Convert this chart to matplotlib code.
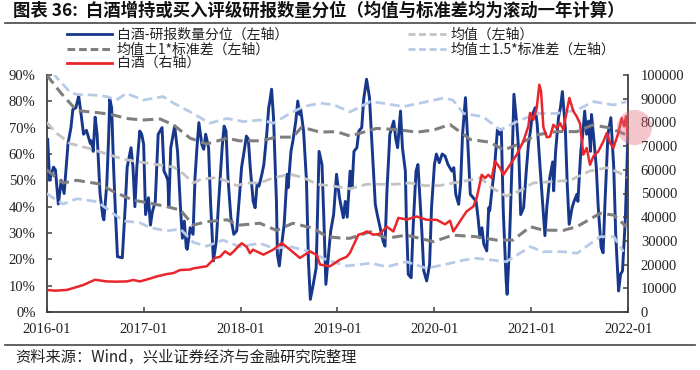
import matplotlib
matplotlib.use('Agg')
import matplotlib.pyplot as plt
from matplotlib.lines import Line2D
from matplotlib import font_manager

plt.rcParams['font.family'] = ['Noto Sans CJK SC', 'DejaVu Sans']

# ---- data (time in decimal years) ----
blue_t = [2016.01, 2016.03, 2016.07, 2016.09, 2016.12, 2016.15, 2016.18, 2016.22, 2016.25, 2016.27,
          2016.30, 2016.33, 2016.35, 2016.38, 2016.41, 2016.45, 2016.46, 2016.48, 2016.50, 2016.52,
          2016.55, 2016.58, 2016.59, 2016.62, 2016.64, 2016.65, 2016.67, 2016.69, 2016.71, 2016.73,
          2016.78, 2016.81, 2016.83, 2016.85, 2016.87, 2016.89, 2016.91, 2016.93, 2016.96, 2016.98,
          2017.00, 2017.02, 2017.05, 2017.07, 2017.09, 2017.12, 2017.15, 2017.19, 2017.21, 2017.23,
          2017.25, 2017.26, 2017.28, 2017.31, 2017.32, 2017.35, 2017.38, 2017.40, 2017.42, 2017.44,
          2017.45, 2017.48, 2017.51, 2017.53, 2017.55, 2017.57, 2017.60, 2017.62, 2017.64, 2017.67,
          2017.69, 2017.72, 2017.75, 2017.77, 2017.81, 2017.83, 2017.85, 2017.87, 2017.90, 2017.93,
          2017.96, 2017.99,
          2018.01, 2018.04, 2018.06, 2018.08, 2018.10, 2018.13, 2018.15, 2018.17, 2018.19, 2018.22,
          2018.24, 2018.27, 2018.29, 2018.30, 2018.32, 2018.34, 2018.37, 2018.38, 2018.40, 2018.42,
          2018.45, 2018.48, 2018.49, 2018.52, 2018.54, 2018.57, 2018.59, 2018.61, 2018.62, 2018.65,
          2018.68, 2018.70, 2018.72, 2018.75, 2018.78, 2018.81, 2018.84, 2018.86, 2018.88, 2018.91,
          2018.93, 2018.96, 2018.99,
          2019.02, 2019.04, 2019.06, 2019.08, 2019.10, 2019.13, 2019.15, 2019.17, 2019.20, 2019.22,
          2019.25, 2019.27, 2019.30, 2019.33, 2019.35, 2019.39, 2019.41, 2019.44, 2019.47, 2019.49,
          2019.51, 2019.54, 2019.58, 2019.60, 2019.62, 2019.65, 2019.67, 2019.70, 2019.71, 2019.73,
          2019.76, 2019.78, 2019.81, 2019.83, 2019.85, 2019.87, 2019.89, 2019.92, 2019.95, 2019.97,
          2020.00, 2020.02, 2020.05, 2020.08, 2020.11, 2020.14, 2020.18, 2020.20, 2020.22, 2020.25,
          2020.27, 2020.29, 2020.32, 2020.34, 2020.37, 2020.40, 2020.43, 2020.45, 2020.47, 2020.49,
          2020.51, 2020.54, 2020.56, 2020.57, 2020.60, 2020.62, 2020.65, 2020.67, 2020.69, 2020.71,
          2020.74, 2020.75, 2020.77, 2020.80, 2020.82, 2020.85, 2020.87, 2020.89, 2020.92, 2020.95,
          2020.97, 2020.99,
          2021.01, 2021.04, 2021.06, 2021.09, 2021.12, 2021.14, 2021.16, 2021.19, 2021.22, 2021.23,
          2021.25, 2021.28, 2021.30, 2021.32, 2021.35, 2021.37, 2021.39, 2021.42, 2021.44, 2021.47,
          2021.48, 2021.51, 2021.53, 2021.55, 2021.57, 2021.59, 2021.61, 2021.62, 2021.64, 2021.67,
          2021.69, 2021.72, 2021.74, 2021.76, 2021.79, 2021.82, 2021.85, 2021.87, 2021.90, 2021.92,
          2021.94, 2021.97, 2021.99, 2022.00]
blue_v = [65.5, 50, 55, 54, 41, 50, 45, 64, 70, 77,
          77.5, 82, 76.5, 67.5, 69, 64, 65, 61, 74, 67.5,
          45, 36, 35, 48.6, 67.5, 81, 77.5, 55, 37, 21,
          20.6, 40, 55, 58.6, 62.4, 55, 40, 55, 68.7, 67.5,
          63.7, 37, 43.4, 33, 38, 42, 67.5, 70, 53.5, 52,
          50, 40, 62.4, 68.7, 70.6, 61, 39.6, 28, 34.5, 24.4,
          23.8, 32, 29.5, 51, 62.4, 71.9, 63.7, 61.8, 67.5, 62.4,
          42, 19.4, 27, 39.6, 62.4, 70.6, 68.7, 51, 35.8, 29.5,
          30.8, 44.7,
          54.8, 61.8, 66.8, 65.6, 54.8, 42, 39.6, 48.5, 47.8, 52.3,
          56, 67.5, 77.6, 79.5, 84.6, 73.8, 42, 21.9, 17.5, 24.4,
          33.3, 52.3, 47.2, 61, 65, 72.5, 80.1, 75, 77, 68.7,
          49.7, 19.4, 4.8, 10.5, 16.8, 61, 56, 34.5, 10.5, 23,
          30.8, 37, 52.3,
          43.4, 39.6, 35.8, 42, 36, 53.5, 47.2, 61, 62.4, 68.7,
          70, 80.8, 88.4, 81.4, 67.5, 40.9, 37, 32, 27, 25,
          46, 67.5, 72.5, 66, 62.4, 76.3, 62.4, 53.5, 35.8, 14.3,
          13, 32, 53.5, 56, 43.4, 30.8, 15.6, 11.8, 18, 39.6,
          56, 60, 56.7, 60, 59.2, 56, 53.5, 54.8, 44.7, 40.9,
          48.5, 67.5, 81.4, 67.5, 44.7, 43.4, 42, 35.8, 28.2, 32,
          25.7, 23.2, 39.6, 38.4, 48.5, 54.8, 69.4, 67.5, 69.4, 38.4,
          11.8, 6.7, 21.9, 56, 82.7, 71.3, 61, 37, 39.6, 54.8,
          63.7, 68.7,
          75, 77.6, 71.3, 54.8, 39.6, 29, 40, 51, 57, 46,
          61, 73.8, 77.6, 83.7, 70, 48.5, 33.3, 39.6, 42, 44.7,
          42, 61, 67.5, 76.3, 67.5, 72.5, 61, 75, 67.5, 54.8,
          39.6, 24.4, 22.5, 42, 67.5, 73.8, 54.8, 29.5, 8, 14.3,
          15.6, 35.8, 61, 72.5]

mean_t = [2016.00, 2016.10, 2016.24, 2016.45, 2016.62, 2016.79, 2016.96, 2017.13, 2017.31, 2017.41,
          2017.51, 2017.60, 2017.75, 2017.86, 2017.96, 2018.06, 2018.20, 2018.34, 2018.51, 2018.65,
          2018.79, 2018.96, 2019.13, 2019.30, 2019.45, 2019.60, 2019.75, 2019.90, 2020.05, 2020.20,
          2020.35, 2020.47, 2020.60, 2020.74, 2020.88, 2021.02, 2021.20, 2021.40, 2021.60, 2021.78,
          2021.90, 2022.00]
mean_v = [72, 68, 64, 62, 60, 58, 57, 56, 55, 52.5,
          49, 50.5, 51, 49.7, 48, 49, 49, 51, 52.3, 51,
          48.5, 47.8, 46.8, 48.5, 48.5, 48.5, 49, 48, 48, 49,
          50, 51, 47, 44, 46, 49, 49.5, 50, 53.5, 54.8,
          53, 51]

up1_t = [2016.00, 2016.15, 2016.31, 2016.55, 2016.69, 2016.82, 2016.99, 2017.17, 2017.31, 2017.48,
         2017.65, 2017.86, 2017.99, 2018.20, 2018.37, 2018.54, 2018.63, 2018.82, 2018.99, 2019.13,
         2019.40, 2019.61, 2019.82, 2019.99, 2020.16, 2020.26, 2020.37, 2020.57, 2020.72, 2020.88,
         2021.06, 2021.26, 2021.47, 2021.63, 2021.80, 2021.98]
up1_v = [90, 83, 76.5, 75.6, 74.8, 73.5, 72.9, 73.3, 71, 66,
         63.8, 66, 65, 65, 66.4, 66.4, 70.2, 68.3, 68.5, 66.8,
         69.7, 69.3, 68.3, 69.1, 71.2, 68.5, 65.5, 64.5, 61.5, 64,
         67.3, 68.5, 68.5, 71, 70, 67.3]

lo1_t = [2016.00, 2016.10, 2016.17, 2016.31, 2016.55, 2016.69, 2016.89, 2017.07, 2017.24, 2017.38,
         2017.51, 2017.65, 2017.86, 2017.99, 2018.20, 2018.37, 2018.54, 2018.75, 2018.89, 2019.06,
         2019.13, 2019.34, 2019.51, 2019.71, 2019.99, 2020.19, 2020.43, 2020.64, 2020.81, 2020.99,
         2021.12, 2021.33, 2021.47, 2021.71, 2021.85, 2021.98]
lo1_v = [54, 51, 49, 50, 48.6, 45.7, 42.5, 41.3, 40, 38.7,
         33, 34.3, 35, 33, 33.7, 31, 33.7, 31.8, 28.6, 28,
         28, 30.5, 28, 29.2, 26.7, 29.2, 28.6, 27.3, 27.3, 32.4,
         31.1, 31, 32.4, 37.5, 36.8, 32.4]

up15_t = [2016.00, 2016.08, 2016.24, 2016.31, 2016.48, 2016.62, 2016.72, 2016.82, 2017.00, 2017.20,
          2017.31, 2017.51, 2017.68, 2017.86, 2018.03, 2018.20, 2018.34, 2018.51, 2018.65, 2018.82,
          2018.96, 2019.13, 2019.34, 2019.47, 2019.68, 2019.85, 2020.09, 2020.19, 2020.30, 2020.50,
          2020.68, 2020.85, 2021.06, 2021.26, 2021.47, 2021.64, 2021.85, 2021.98]
up15_v = [96, 90, 83.5, 82.6, 82.4, 81.8, 80.5, 83, 80.5, 81.8,
          79.3, 75.4, 71.7, 73.5, 72.3, 72.9, 71.7, 75.4, 78, 79.3,
          78.7, 76, 79.9, 79.3, 78, 79.3, 81.2, 80.5, 75.4, 74.2,
          69.1, 72.3, 75.4, 75.4, 76.7, 79.9, 78.6, 79.9]

lo15_t = [2016.00, 2016.10, 2016.17, 2016.31, 2016.52, 2016.65, 2016.79, 2016.96, 2017.07, 2017.24,
          2017.38, 2017.51, 2017.65, 2017.82, 2017.99, 2018.20, 2018.34, 2018.51, 2018.72, 2018.89,
          2019.10, 2019.34, 2019.51, 2019.71, 2019.92, 2020.09, 2020.30, 2020.43, 2020.60, 2020.74,
          2020.99, 2021.12, 2021.33, 2021.47, 2021.71, 2021.85, 2021.95]
lo15_v = [45, 42.5, 41, 43, 41.9, 38.4, 34.6, 33.9, 32, 30.8,
          31.5, 26.5, 25, 27.3, 24.8, 26.1, 24.2, 24.8, 22.9, 19.7,
          17.5, 18.5, 17.2, 19.1, 16.6, 17.9, 19.7, 20.4, 19.7, 19.1,
          24.8, 22.9, 22.9, 22.3, 28.6, 28.6, 22.9]

red_t = [2016.000, 2016.086, 2016.206, 2016.274, 2016.378, 2016.498, 2016.619, 2016.722, 2016.825, 2016.893,
         2016.963, 2017.066, 2017.135, 2017.238, 2017.306, 2017.375, 2017.478, 2017.512, 2017.651, 2017.736,
         2017.788, 2017.840, 2017.891, 2017.925, 2017.994, 2018.012, 2018.063, 2018.097, 2018.128, 2018.235,
         2018.338, 2018.425, 2018.510, 2018.613, 2018.716, 2018.786, 2018.820, 2018.923, 2019.026, 2019.095,
         2019.129, 2019.215, 2019.266, 2019.301, 2019.370, 2019.439, 2019.508, 2019.576, 2019.628, 2019.714,
         2019.817, 2019.921, 2020.024, 2020.109, 2020.161, 2020.195, 2020.264, 2020.333, 2020.401, 2020.436,
         2020.488, 2020.522, 2020.556, 2020.591, 2020.625, 2020.677, 2020.711, 2020.780, 2020.849, 2020.917,
         2020.969, 2020.986, 2021.020, 2021.055, 2021.082, 2021.100, 2021.124, 2021.159, 2021.193, 2021.227,
         2021.262, 2021.296, 2021.330, 2021.365, 2021.392, 2021.433, 2021.468, 2021.502, 2021.536, 2021.571,
         2021.605, 2021.640, 2021.691, 2021.743, 2021.778, 2021.812, 2021.846, 2021.897, 2021.932, 2021.956,
         2021.977, 2022.000]
red_v = [9300, 9000, 9300, 10100, 11400, 13600, 12900, 12800, 12900, 13500,
         12900, 14100, 15000, 16000, 16400, 17700, 17900, 18400, 19300, 22800,
         23300, 25600, 24200, 25400, 28400, 29000, 27500, 24800, 26300, 24200,
         26300, 29100, 26300, 22800, 25600, 24000, 20000, 19300, 22100, 23300,
         25000, 32600, 33200, 34000, 32600, 33000, 36000, 34000, 39700, 39000,
         40300, 38900, 38900, 37000, 38500, 34000, 38300, 42500, 44500, 48100,
         57900, 56500, 57900, 56500, 63600, 60800, 57900, 62100, 66400, 72000,
         78400, 84000, 81100, 86100, 95900, 93100, 78000, 73700, 74000, 79000,
         77500, 79700, 76900, 84700, 90300, 84700, 82500, 79500, 66400, 69200,
         62100, 65700, 67800, 72000, 75500, 71300, 69200, 75500, 81800, 78400,
         82600, 72000]

# highlight circle at the end of the red series
hl_t = 2022.06
hl_v = 78000

years = [2016, 2017, 2018, 2019, 2020, 2021, 2022]
left_ticks = [0, 10, 20, 30, 40, 50, 60, 70, 80, 90]
right_ticks = [0, 10000, 20000, 30000, 40000, 50000, 60000, 70000, 80000, 90000, 100000]

title = '图表 36:  白酒增持或买入评级研报数量分位（均值与标准差均为滚动一年计算）'
source = '资料来源：Wind，兴业证券经济与金融研究院整理'
labels = ['白酒-研报数量分位（左轴）', '均值（左轴）', '均值±1*标准差（左轴）',
          '均值±1.5*标准差（左轴）', '白酒（右轴）']

# serif font for the axis numbers
serif = 'DejaVu Serif'
for cand in ['Liberation Serif', 'Times New Roman', 'DejaVu Serif']:
    try:
        font_manager.findfont(font_manager.FontProperties(family=cand), fallback_to_default=False)
        serif = cand
        break
    except Exception:
        pass
tick_fp = font_manager.FontProperties(family=serif, size=10.5)

# ---- styles ----
c_blue = '#17378c'
c_mean = '#c3c3c3'
c_std1 = '#7f7f7f'
c_std15 = '#b7cbe8'
c_red = '#e8262b'
c_axis = '#404040'
dash = (3.5, 1.8)

W, H = 700, 370
fig = plt.figure(figsize=(W / 100, H / 100), dpi=100)
fig.patch.set_facecolor('white')
ax = fig.add_axes([46.7 / W, 1 - 312 / H, (628.3 - 46.7) / W, (312 - 75) / H])
ax2 = ax.twinx()

ax.plot(blue_t, blue_v, color=c_blue, lw=2.1, zorder=2)
ax.plot(mean_t, mean_v, color=c_mean, lw=2.0, dashes=dash, zorder=3)
ax.plot(up1_t, up1_v, color=c_std1, lw=2.2, dashes=dash, zorder=3)
ax.plot(lo1_t, lo1_v, color=c_std1, lw=2.2, dashes=dash, zorder=3)
ax.plot(up15_t, up15_v, color=c_std15, lw=2.0, dashes=dash, zorder=3)
ax.plot(lo15_t, lo15_v, color=c_std15, lw=2.0, dashes=dash, zorder=3)
ax2.plot(red_t, red_v, color=c_red, lw=1.8, zorder=4)
ax2.scatter([hl_t], [hl_v], s=640, color='#e06a78', alpha=0.38, linewidths=0,
            clip_on=False, zorder=6)

ax.set_xlim(2016, 2022)
ax.set_ylim(0, 90)
ax2.set_ylim(0, 100000)

for a in (ax, ax2):
    a.spines['top'].set_visible(False)
    for s in a.spines.values():
        s.set_color(c_axis)
        s.set_linewidth(1.3)
ax.spines['right'].set_visible(False)
ax2.spines['left'].set_visible(False)
ax2.spines['bottom'].set_visible(False)

ax.tick_params(axis='both', direction='in', length=3.5, width=1.1, color=c_axis,
               labelcolor='#222222')
ax.tick_params(axis='y', pad=8)
ax.tick_params(axis='x', pad=8)
ax2.tick_params(axis='y', direction='in', length=3.5, width=1.1, color=c_axis, pad=9,
                labelcolor='#222222')

ax.set_xticks(years)
ax.set_xticklabels([f'{y}-01' for y in years], fontproperties=tick_fp)
ax.set_yticks(left_ticks)
ax.set_yticklabels([f'{v}%' for v in left_ticks], fontproperties=tick_fp)
ax2.set_yticks(right_ticks)
ax2.set_yticklabels([str(v) for v in right_ticks], fontproperties=tick_fp)

# ---- title, rules, footer ----
fig.text(13 / W, 1 - 11 / H, title, fontsize=12.5, fontweight='bold', ha='left', va='center',
         color='#111111')
fig.add_artist(Line2D([5 / W, 695 / W], [1 - 22.7 / H] * 2, color='#555555', lw=1.3))
fig.add_artist(Line2D([5 / W, 695 / W], [1 - 345 / H] * 2, color='#555555', lw=1.3))
fig.text(15 / W, 1 - 357 / H, source, fontsize=11, ha='left', va='center', color='#222222')

# ---- legend (drawn by hand for tight row spacing) ----
leg_rows = [
    (66.7, 111.7, 34.3, labels[0], dict(color=c_blue, lw=2.0)),
    (66.7, 111.7, 49.3, labels[2], dict(color=c_std1, lw=2.2, dashes=(2.5, 1.3))),
    (66.7, 111.7, 62.7, labels[4], dict(color=c_red, lw=2.0)),
    (408, 446, 34.3, labels[1], dict(color=c_mean, lw=2.0, dashes=(2.5, 1.3))),
    (408, 446, 49.3, labels[3], dict(color=c_std15, lw=2.0, dashes=(2.5, 1.3))),
]
for x0, x1, y, lab, kw in leg_rows:
    fig.add_artist(Line2D([x0 / W, x1 / W], [1 - y / H] * 2, **kw))
    fig.text((x1 + 5) / W, 1 - y / H, lab, fontsize=10, ha='left', va='center',
             color='#222222')

fig.savefig('out.png', dpi=100)
